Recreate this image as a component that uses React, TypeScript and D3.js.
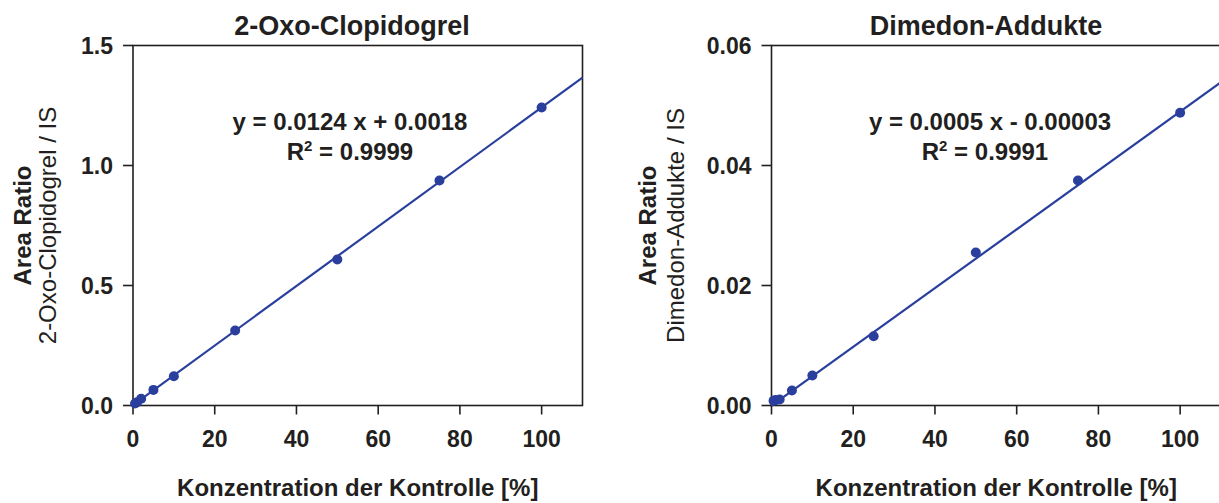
import React from "react";
import * as d3 from "d3";

const concentrations = [0.5, 1, 2, 5, 10, 25, 50, 75, 100];
const oxoValues = [0.008, 0.014, 0.028, 0.065, 0.122, 0.3125, 0.608, 0.9375, 1.242];
const dimedonValues = [0.0008, 0.0009, 0.001, 0.0025, 0.005, 0.01155, 0.0255, 0.0375, 0.0488];
const xTicks = [0, 20, 40, 60, 80, 100];
const oxoYTicks = [0, 0.5, 1.0, 1.5];
const dimYTicks = [0, 0.02, 0.04, 0.06];
const oxoFit = { slope: 0.0124, intercept: 0.0018 };
const dimFit = { slope: 0.00049, intercept: -0.00003 };

const INK = "#231f20";
const BLUE = "#2a3f9d";
const FONT = "Liberation Sans, Arial, Helvetica, sans-serif";

type PanelProps = {
  x0: number;
  title: string;
  titleX: number;
  values: number[];
  yMax: number;
  yTicks: number[];
  yFmt: (v: number) => string;
  fit: { slope: number; intercept: number };
  eq: string;
  r2: string;
  eqX: number;
  r2X: number;
  ylabel2: string;
  labelX1: number;
  labelX2: number;
};

function Panel(p: PanelProps) {
  const top = 45.5;
  const bottom = 405.5;
  const x = d3.scaleLinear().domain([0, 110]).range([p.x0, p.x0 + 449.5]);
  const y = d3.scaleLinear().domain([0, p.yMax]).range([bottom, top]);
  const fitLine = d3
    .line<number>()
    .x((d) => x(d))
    .y((d) => y(p.fit.slope * d + p.fit.intercept));
  const midY = (top + bottom) / 2;
  return (
    <g fontFamily={FONT} fill={INK}>
      <text x={p.titleX} y={35} textAnchor="middle" fontSize={27} fontWeight="bold">
        {p.title}
      </text>
      <rect
        x={x(0)}
        y={top}
        width={x(110) - x(0)}
        height={bottom - top}
        fill="none"
        stroke={INK}
        strokeWidth={1.6}
      />
      {p.yTicks.map((t) => (
        <g key={"y" + t}>
          <line x1={x(0) - 10} x2={x(0)} y1={y(t)} y2={y(t)} stroke={INK} strokeWidth={1.6} />
          <text x={x(0) - 20} y={y(t) + 8} textAnchor="end" fontSize={23} fontWeight="bold">
            {p.yFmt(t)}
          </text>
        </g>
      ))}
      {xTicks.map((t) => (
        <g key={"x" + t}>
          <line x1={x(t)} x2={x(t)} y1={bottom} y2={bottom + 9} stroke={INK} strokeWidth={1.6} />
          <text x={x(t)} y={447} textAnchor="middle" fontSize={23} fontWeight="bold">
            {t}
          </text>
        </g>
      ))}
      <text
        x={(x(0) + x(110)) / 2}
        y={496}
        textAnchor="middle"
        fontSize={24}
        fontWeight="bold"
      >
        Konzentration der Kontrolle [%]
      </text>
      <text
        transform={`translate(${p.labelX1},${midY}) rotate(-90)`}
        textAnchor="middle"
        fontSize={24}
        fontWeight="bold"
      >
        Area Ratio
      </text>
      <text
        transform={`translate(${p.labelX2},${midY}) rotate(-90)`}
        textAnchor="middle"
        fontSize={24}
      >
        {p.ylabel2}
      </text>
      <path d={fitLine([0, 110]) || ""} fill="none" stroke={BLUE} strokeWidth={2.2} />
      {concentrations.map((c, i) => (
        <circle key={i} cx={x(c)} cy={y(p.values[i])} r={5} fill={BLUE} />
      ))}
      <text x={p.eqX} y={130} textAnchor="middle" fontSize={24} fontWeight="bold">
        {p.eq}
      </text>
      <text x={p.r2X} y={160} textAnchor="middle" fontSize={24} fontWeight="bold">
        R<tspan dy={-9} fontSize={15}>2</tspan>
        <tspan dy={9}>{" = " + p.r2}</tspan>
      </text>
    </g>
  );
}

export default function App() {
  return (
    <svg
      width={1219}
      height={503}
      style={{ position: "absolute", left: 0, top: 0, background: "#fff" }}
    >
      <Panel
        x0={133}
        title="2-Oxo-Clopidogrel"
        titleX={352}
        values={oxoValues}
        yMax={1.5}
        yTicks={oxoYTicks}
        yFmt={d3.format(".1f")}
        fit={oxoFit}
        eq="y = 0.0124 x + 0.0018"
        r2="0.9999"
        eqX={350}
        r2X={350}
        ylabel2="2-Oxo-Clopidogrel / IS"
        labelX1={31}
        labelX2={56}
      />
      <Panel
        x0={771.5}
        title="Dimedon-Addukte"
        titleX={986}
        values={dimedonValues}
        yMax={0.06}
        yTicks={dimYTicks}
        yFmt={d3.format(".2f")}
        fit={dimFit}
        eq="y = 0.0005 x - 0.00003"
        r2="0.9991"
        eqX={990}
        r2X={985}
        ylabel2="Dimedon-Addukte / IS"
        labelX1={656}
        labelX2={684}
      />
    </svg>
  );
}
